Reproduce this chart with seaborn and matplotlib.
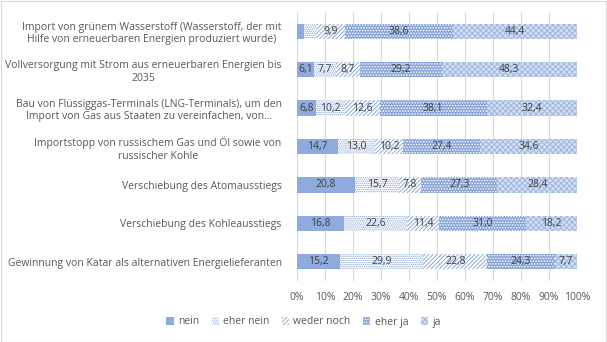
import matplotlib
matplotlib.use("Agg")
import matplotlib.pyplot as plt
import seaborn as sns
import pandas as pd
import numpy as np
from matplotlib.patches import Patch, Rectangle

categories = [
    "Import von grünem Wasserstoff (Wasserstoff, der mit\nHilfe von erneuerbaren Energien produziert wurde)",
    "Vollversorgung mit Strom aus erneuerbaren Energien bis\n2035",
    "Bau von Flüssiggas-Terminals (LNG-Terminals), um den\nImport von Gas aus Staaten zu vereinfachen, von…",
    "Importstopp von russischem Gas und Öl sowie von\nrussischer Kohle",
    "Verschiebung des Atomausstiegs",
    "Verschiebung des Kohleausstiegs",
    "Gewinnung von Katar als alternativen Energielieferanten",
]
series_names = ["nein", "eher nein", "weder noch", "eher ja", "ja"]
nein = [2.6, 6.1, 6.8, 14.7, 20.8, 16.8, 15.2]
eher_nein = [4.5, 7.7, 10.2, 13.0, 15.7, 22.6, 29.9]
weder_noch = [9.9, 8.7, 12.6, 10.2, 7.8, 11.4, 22.8]
eher_ja = [38.6, 29.2, 38.1, 27.4, 27.3, 31.0, 24.3]
ja = [44.4, 48.3, 32.4, 34.6, 28.4, 18.2, 7.7]
x_ticks = [0, 10, 20, 30, 40, 50, 60, 70, 80, 90, 100]
x_tick_labels = ["0%", "10%", "20%", "30%", "40%", "50%", "60%", "70%", "80%", "90%", "100%"]

series = [nein, eher_nein, weder_noch, eher_ja, ja]
BLUE = "#8FAADC"
styles = [
    dict(facecolor=BLUE, hatch=None, edgecolor=BLUE),
    dict(facecolor="white", hatch="........", edgecolor=BLUE),
    dict(facecolor="white", hatch="////////", edgecolor=BLUE),
    dict(facecolor="#89A5DA", hatch="......", edgecolor="white"),
    dict(facecolor="#D3DEF2", hatch="xxxxxx", edgecolor="#9FB6E2"),
]

sns.set_theme(style="white")
plt.rcParams["font.family"] = ["Open Sans", "DejaVu Sans"]
plt.rcParams["hatch.linewidth"] = 0.7

fig = plt.figure(figsize=(6.07, 3.42), dpi=100)
ax = fig.add_axes([297 / 607, 1 - 281 / 342, 280 / 607, 269 / 342])

cum = np.cumsum(np.array(series), axis=0)
# draw from largest cumulative to smallest so segments stack visually
for i in range(len(series) - 1, -1, -1):
    df = pd.DataFrame({"cat": categories, "val": cum[i]})
    st = styles[i]
    sns.barplot(data=df, x="val", y="cat", orient="h", ax=ax, width=0.4,
                color=st["facecolor"], hatch=st["hatch"], edgecolor=st["edgecolor"],
                linewidth=0, saturation=1, zorder=3)
    for p in ax.patches[-len(categories):]:
        p.set_facecolor(st["facecolor"])
        p.set_edgecolor(st["edgecolor"])

# data labels
for i, vals in enumerate(series):
    starts = cum[i] - np.array(vals)
    for j, v in enumerate(vals):
        if v >= 5:
            ax.text(starts[j] + v / 2, j, f"{v:.1f}".replace(".", ","),
                    ha="center", va="center", fontsize=7.5, color="#404040", zorder=5)

ax.set_xlim(0, 100)
ax.set_ylim(len(categories) - 0.5, -0.5)
ax.set_xticks(x_ticks)
ax.set_xticklabels(x_tick_labels)
ax.set_xlabel("")
ax.set_ylabel("")
ax.grid(axis="x", color="#D9D9D9", linewidth=0.8, zorder=0)
ax.grid(axis="y", visible=False)
for s in ax.spines.values():
    s.set_visible(False)
ax.tick_params(axis="both", length=0, labelsize=7.5, labelcolor="#595959")
ax.tick_params(axis="y", pad=11)
ax.tick_params(axis="x", pad=8)
for lbl in ax.get_yticklabels():
    lbl.set_multialignment("center")

handles = [Patch(facecolor=st["facecolor"], hatch=st["hatch"], edgecolor=st["edgecolor"], linewidth=0)
           for st in styles]
leg = fig.legend(handles, series_names, loc="center", bbox_to_anchor=(0.5, 1 - 322 / 342),
                 ncol=5, frameon=False, fontsize=7.5, handlelength=0.7, handleheight=0.7,
                 handletextpad=0.4, columnspacing=1.2)
for t in leg.get_texts():
    t.set_color("#595959")

fig.patches.append(Rectangle((0.5 / 607, 0.5 / 342), 1 - 1.5 / 607, 1 - 1.5 / 342,
                             transform=fig.transFigure, fill=False, edgecolor="#D9D9D9",
                             linewidth=0.8))

fig.savefig("out.png", dpi=100)
